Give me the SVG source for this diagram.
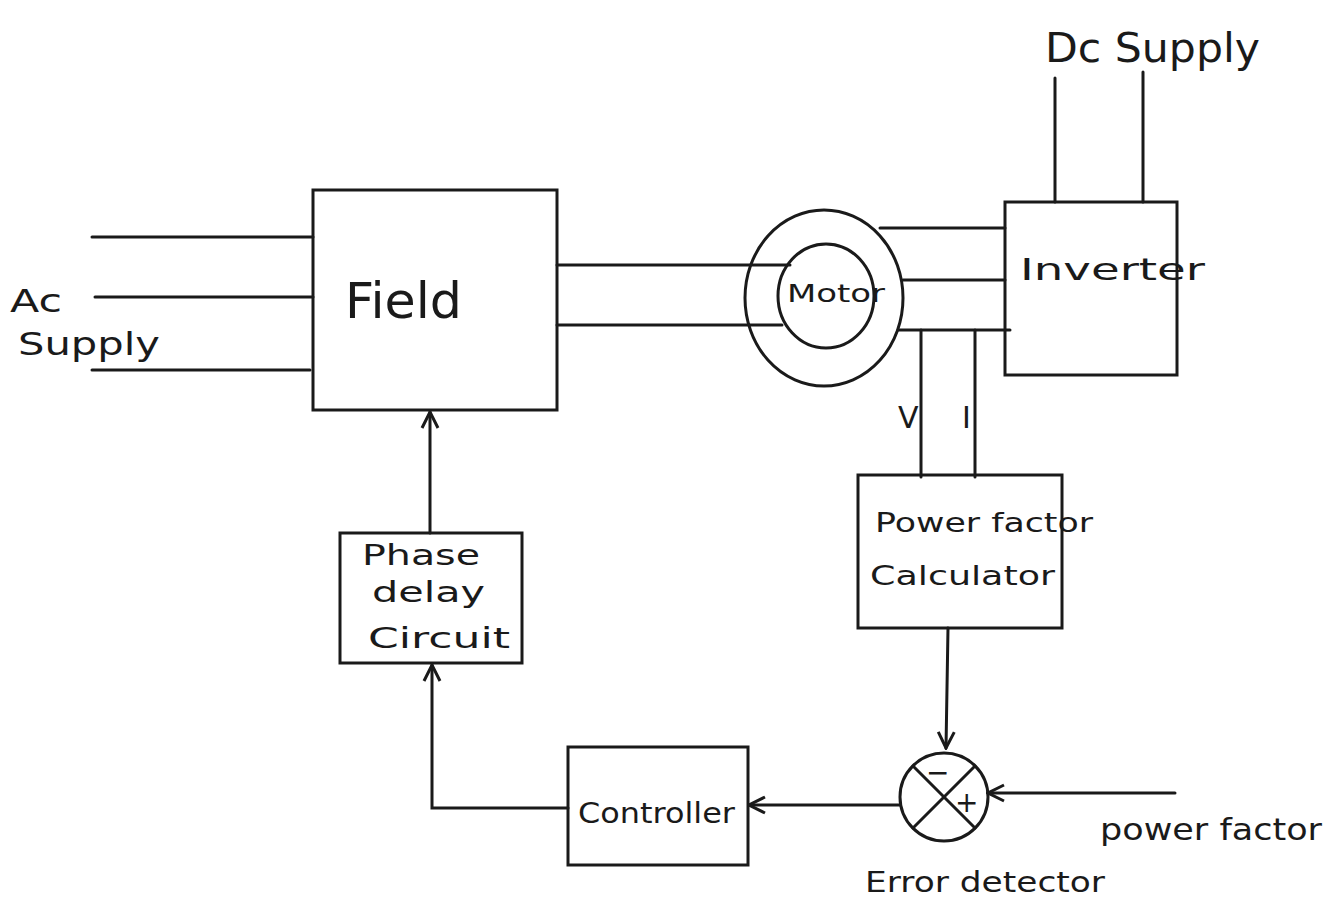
<svg xmlns="http://www.w3.org/2000/svg" width="1335" height="899" viewBox="0 0 1335 899">
<style>
.ln{stroke:#1a1a1a;stroke-width:3;fill:none;stroke-linecap:round}
.bx{stroke:#1a1a1a;stroke-width:3;fill:none}
text{font-family:"DejaVu Sans","Liberation Sans",sans-serif;fill:#1a1a1a}
</style>
<defs>
<marker id="ar" viewBox="0 0 20 20" refX="18" refY="10" markerWidth="20" markerHeight="20" markerUnits="userSpaceOnUse" orient="auto">
<path d="M2,2 L18,10 L2,18" fill="none" stroke="#1a1a1a" stroke-width="3"/>
</marker>
</defs>
<rect width="1335" height="899" fill="#ffffff"/>
<g id="connectors">
<line class="ln" x1="92" y1="237" x2="313" y2="237"/>
<line class="ln" x1="95" y1="297" x2="313" y2="297"/>
<line class="ln" x1="92" y1="370" x2="310" y2="370"/>
<line class="ln" x1="557" y1="265" x2="790" y2="265"/>
<line class="ln" x1="557" y1="325" x2="782" y2="325"/>
<line class="ln" x1="880" y1="228" x2="1005" y2="228"/>
<line class="ln" x1="903" y1="280" x2="1005" y2="280"/>
<line class="ln" x1="898" y1="330" x2="1010" y2="330"/>
<line class="ln" x1="1055" y1="78" x2="1055" y2="202"/>
<line class="ln" x1="1143" y1="72" x2="1143" y2="202"/>
<line class="ln" x1="921" y1="330" x2="921" y2="477"/>
<line class="ln" x1="975" y1="330" x2="975" y2="477"/>
<line class="ln" x1="948" y1="628" x2="946" y2="748" marker-end="url(#ar)"/>
<line class="ln" x1="1175" y1="793" x2="988" y2="793" marker-end="url(#ar)"/>
<line class="ln" x1="900" y1="805" x2="749" y2="805" marker-end="url(#ar)"/>
<polyline class="ln" points="568,808 432,808 432,665" marker-end="url(#ar)"/>
<line class="ln" x1="430" y1="533" x2="430" y2="412" marker-end="url(#ar)"/>
</g>
<g id="field">
<rect class="bx" x="313" y="190" width="244" height="220"/>
<text x="345" y="318" font-size="50" textLength="117" lengthAdjust="spacingAndGlyphs">Field</text>
</g>
<g id="motor">
<ellipse class="bx" cx="824" cy="298" rx="79" ry="88"/>
<ellipse class="bx" cx="826" cy="296" rx="48" ry="52"/>
<text x="787" y="302" font-size="24" textLength="98" lengthAdjust="spacingAndGlyphs">Motor</text>
</g>
<g id="inverter">
<rect class="bx" x="1005" y="202" width="172" height="173"/>
<text x="1020" y="280" font-size="30" textLength="185" lengthAdjust="spacingAndGlyphs">Inverter</text>
</g>
<g id="pfcalc">
<rect class="bx" x="858" y="475" width="204" height="153"/>
<text x="875" y="532" font-size="26" textLength="218" lengthAdjust="spacingAndGlyphs">Power factor</text>
<text x="870" y="585" font-size="26" textLength="185" lengthAdjust="spacingAndGlyphs">Calculator</text>
</g>
<g id="errordetector">
<circle class="bx" cx="944" cy="797" r="44"/>
<line class="ln" x1="913" y1="766" x2="975" y2="828"/>
<line class="ln" x1="975" y1="766" x2="913" y2="828"/>
<text x="926" y="782" font-size="28">−</text>
<text x="955" y="812" font-size="28">+</text>
</g>
<g id="controller">
<rect class="bx" x="568" y="747" width="180" height="118"/>
<text x="578" y="823" font-size="28" textLength="157" lengthAdjust="spacingAndGlyphs">Controller</text>
</g>
<g id="phasedelay">
<rect class="bx" x="340" y="533" width="182" height="130"/>
<text x="362" y="565" font-size="28" textLength="118" lengthAdjust="spacingAndGlyphs">Phase</text>
<text x="372" y="602" font-size="28" textLength="113" lengthAdjust="spacingAndGlyphs">delay</text>
<text x="368" y="648" font-size="28" textLength="142" lengthAdjust="spacingAndGlyphs">Circuit</text>
</g>
<g id="labels">
<text x="10" y="312" font-size="32" textLength="52" lengthAdjust="spacingAndGlyphs">Ac</text>
<text x="18" y="355" font-size="32" textLength="142" lengthAdjust="spacingAndGlyphs">Supply</text>
<text x="1045" y="62" font-size="40" textLength="215" lengthAdjust="spacingAndGlyphs">Dc Supply</text>
<text x="898" y="428" font-size="30">V</text>
<text x="962" y="428" font-size="30">I</text>
<text x="1100" y="840" font-size="30" textLength="222" lengthAdjust="spacingAndGlyphs">power factor</text>
<text x="865" y="892" font-size="28" textLength="240" lengthAdjust="spacingAndGlyphs">Error detector</text>
</g>
</svg>
